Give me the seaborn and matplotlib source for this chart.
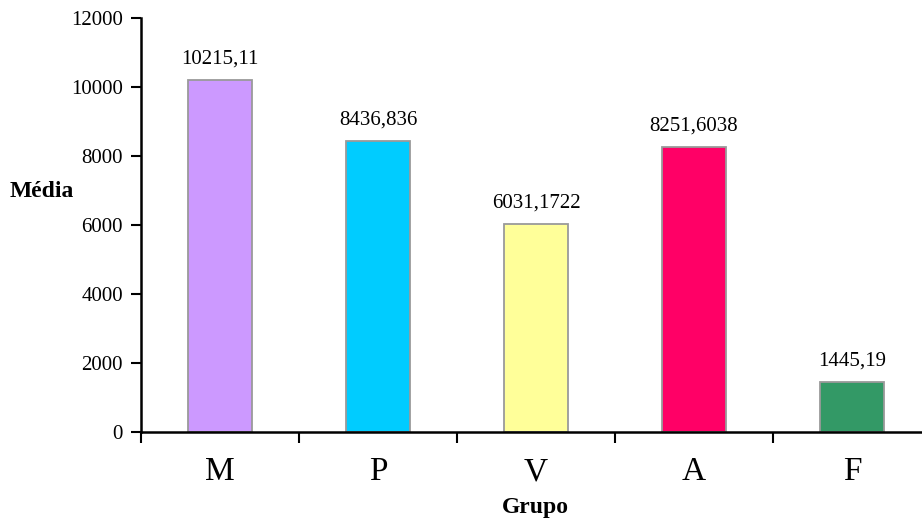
import matplotlib
matplotlib.use("Agg")
import matplotlib.pyplot as plt
import seaborn as sns
import pandas as pd
import numpy as np

grupos = ["M", "P", "V", "A", "F"]
medias = [10215.11, 8436.836, 6031.1722, 8251.6038, 1445.19]
rotulos = ["10215,11", "8436,836", "6031,1722", "8251,6038", "1445,19"]
cores = ["#CC99FF", "#00CCFF", "#FFFF99", "#FF0066", "#339966"]
y_ticks = [0, 2000, 4000, 6000, 8000, 10000, 12000]

sns.set_theme(style="white")
plt.rcParams["font.family"] = ["Liberation Serif", "DejaVu Serif"]
plt.rcParams["text.color"] = "black"
plt.rcParams["xtick.color"] = "black"
plt.rcParams["ytick.color"] = "black"

df = pd.DataFrame({"Grupo": grupos, "Média": medias})

fig = plt.figure(figsize=(9.22, 5.18), dpi=100)
ax = fig.add_axes([141 / 922, (518 - 432) / 518, 790 / 922, 414 / 518])

sns.barplot(data=df, x="Grupo", y="Média", hue="Grupo",
            palette=dict(zip(grupos, cores)), legend=False, saturation=1,
            width=0.41, edgecolor="#9a9a9a", linewidth=1.3, ax=ax)

for i, (v, t) in enumerate(zip(medias, rotulos)):
    ax.text(i, v + 330, t, ha="center", va="bottom", fontsize=15, color="black")

ax.set_ylim(0, 12000)
ax.set_xlim(-0.5, 4.5)
ax.set_yticks(y_ticks)
ax.set_yticklabels([str(t) for t in y_ticks], fontsize=15)
ax.tick_params(axis="y", direction="out", length=7, width=1.5, color="black", pad=6, left=True)

ax.set_xticks(range(len(grupos)))
ax.set_xticklabels(grupos, fontsize=24)
ax.set_xticks(np.arange(-0.5, 5, 1), minor=True)
ax.tick_params(axis="x", which="major", length=0, pad=18)
ax.tick_params(axis="x", which="minor", direction="out", length=8, width=1.5, color="black", bottom=True)

for s in ["top", "right"]:
    ax.spines[s].set_visible(False)
for s in ["left", "bottom"]:
    ax.spines[s].set_color("black")
    ax.spines[s].set_linewidth(1.8)

ax.set_ylabel("")
ax.set_xlabel("")
fig.text(42 / 922, 1 - 192 / 518, "Média", ha="center", va="center", fontsize=17, fontweight="bold")
fig.text(535 / 922, 1 - 507 / 518, "Grupo", ha="center", va="center", fontsize=17, fontweight="bold")

fig.savefig("out.png", dpi=100, facecolor="white")
